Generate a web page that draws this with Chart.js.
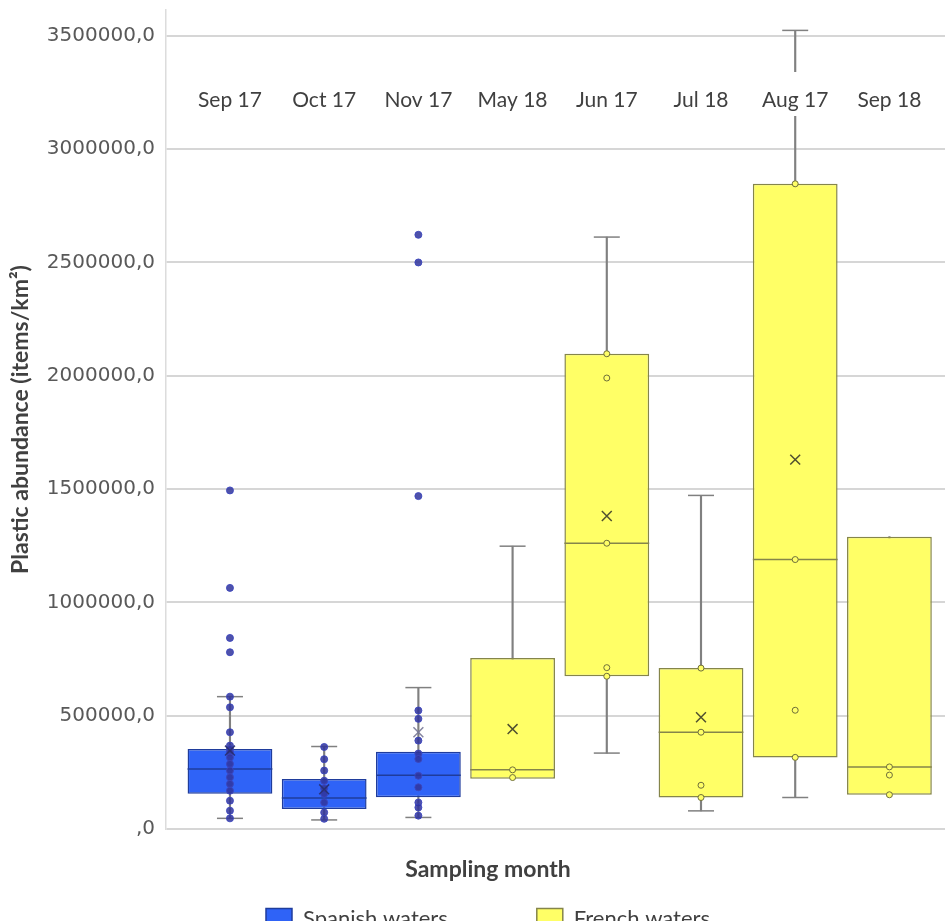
<!DOCTYPE html>
<html><head><meta charset="utf-8">
<script src="https://cdn.jsdelivr.net/npm/chart.js@4.4.1/dist/chart.umd.min.js"></script>
<style>
html,body{margin:0;padding:0;background:#fff;overflow:hidden;}
#wrap{position:relative;width:947px;height:950px;}
</style></head><body>
<div id="wrap"><canvas id="c"></canvas></div>
<script>
// ---- data ----
const categories = ['Sep 17','Oct 17','Nov 17','May 18','Jun 17','Jul 18','Aug 17','Sep 18'];
const spanishIdx = [0,1,2];
const frenchIdx = [3,4,5,6,7];
const q1      = [155000,  88000, 140000, 222000,  674000, 139000,  316000,  151000];
const q3      = [353000, 221000, 341000, 755000, 2097000, 710000, 2847000, 1290000];
const median  = [265000, 137000, 237000, 261000, 1261000, 427000, 1189000,  274000];
const whiskLo = [ 47000,  40000,  51000, 222000,  335000,  80000,  139000,  151000];
const whiskHi = [584000, 364000, 624000,1248000, 2612000,1472000, 3524000, 1290000];
const mean    = [346000, 175000, 427000, 441000, 1381000, 493000, 1630000, null];
const points = [
  [1494000,1064000,843000,780000,584000,537000,427000,368000,353000,338000,316000,287000,258000,228000,199000,169000,125000,81000,47000],
  [362000,308000,258000,213000,180000,155000,117000,73000,45000],
  [2622000,2500000,1469000,523000,486000,390000,333000,309000,235000,184000,117000,95000,59000],
  [261000,227000],
  [2097000,1990000,1261000,712000,674000],
  [710000,427000,193000,139000],
  [2847000,1189000,524000,316000],
  [274000,238000,151000]
];
const yTickValues = [0, 500000, 1000000, 1500000, 2000000, 2500000, 3000000, 3500000];
const yMax = 3614000;

// ---- styles ----
const BLUE = '#2f63f7', BLUE_EDGE = '#1f3c9c', DOT_BLUE = 'rgba(48,52,155,0.85)';
const YEL = '#ffff66', YEL_EDGE = '#85854a';
const GREY = '#808080';
const isSp = i => spanishIdx.includes(i);

const boxData = idx => idx.map(i => ({x:i, y:[q1[i], q3[i]]}));
const datasets = [
  {type:'bar', label:'Spanish waters', data:boxData(spanishIdx), backgroundColor:BLUE, borderColor:BLUE_EDGE,
   borderWidth:1.5, borderSkipped:false, grouped:false, barPercentage:0.9, categoryPercentage:1, order:6},
  {type:'bar', label:'French waters', data:boxData(frenchIdx), backgroundColor:YEL, borderColor:YEL_EDGE,
   borderWidth:1.5, borderSkipped:false, grouped:false, barPercentage:0.9, categoryPercentage:1, order:6},
  {type:'bar', label:'whiskers', data:categories.map((c,i)=>({x:i, y:[whiskLo[i], whiskHi[i]]})),
   backgroundColor:GREY, borderWidth:0, grouped:false, barThickness:1.5, order:10},
  {type:'scatter', label:'caps', data:[
      ...categories.map((c,i)=>whiskHi[i]>q3[i]?{x:i,y:whiskHi[i]}:null).filter(Boolean),
      ...categories.map((c,i)=>whiskLo[i]<q1[i]?{x:i,y:whiskLo[i]}:null).filter(Boolean)],
   pointStyle:'line', pointRadius:13, borderColor:GREY, borderWidth:1.5, order:5},
  {type:'scatter', label:'median', data:categories.map((c,i)=>({x:i,y:median[i]})),
   pointStyle:'line', pointRadius:42.4, borderWidth:1.5,
   borderColor:categories.map((c,i)=>isSp(i)?BLUE_EDGE:YEL_EDGE), order:4},
  {type:'scatter', label:'spanish points', data:spanishIdx.flatMap(i=>points[i].map(v=>({x:i,y:v}))),
   pointStyle:'circle', pointRadius:3.5, backgroundColor:DOT_BLUE, borderColor:'rgba(60,70,190,0.9)', borderWidth:1, order:2},
  {type:'scatter', label:'french points', data:frenchIdx.flatMap(i=>points[i].map(v=>({x:i,y:v}))),
   pointStyle:'circle', pointRadius:3, backgroundColor:YEL, borderColor:'#6f6f3a', borderWidth:1, order:2},
  {type:'scatter', label:'mean', data:categories.map((c,i)=>mean[i]==null?null:{x:i,y:mean[i]}).filter(Boolean),
   pointStyle:'crossRot', pointRadius:7, borderWidth:1.5,
   borderColor:ctx=>{const x = ctx.raw ? ctx.raw.x : 0; return x===2 ? 'rgba(120,120,150,0.9)' : (isSp(x)?'rgba(40,45,110,0.9)':'#505030');}, order:1}
];

const topLabels = {
  id:'topLabels',
  afterDatasetsDraw(chart){
    const {ctx, scales:{x}} = chart;
    ctx.save();
    ctx.font = '21px Lato';
    ctx.textAlign = 'center'; ctx.textBaseline = 'middle';
    categories.forEach((c,i)=>{
      const px = x.getPixelForValue(i);
      const w = ctx.measureText(c).width;
      ctx.fillStyle = '#ffffff';
      ctx.fillRect(px - w/2 - 4, 72, w + 8, 44);
      ctx.fillStyle = '#404040';
      ctx.fillText(c, px, 100);
    });
    ctx.restore();
  }
};

Chart.defaults.font.family = 'Lato';
new Chart(document.getElementById('c'), {
  type:'bar',
  data:{datasets},
  plugins:[topLabels],
  options:{
    responsive:true, maintainAspectRatio:false, animation:false, events:[],
    layout:{autoPadding:false, padding:{left:31, right:2, top:10, bottom:0}},
    scales:{
      x:{type:'linear', display:false, offset:false, min:-0.679, max:7.59,
         ticks:{stepSize:1, includeBounds:false}},
      y:{min:0, max:yMax,
         afterBuildTicks:s => { s.ticks = yTickValues.map(v => ({value:v})); },
         ticks:{padding:11, color:'#595959',
                font:{family:'DejaVu Sans', size:20},
                callback:v => (v===0 ? '' : String(v)) + ',0'},
         grid:{color:'#d6d6d6', lineWidth:2, drawTicks:false},
         border:{display:true, color:'#dcdcdc', width:1.5},
         title:{display:true, text:'Plastic abundance (items/km²)', color:'#404040',
                font:{size:23, weight:'bold'}, padding:{top:-24, bottom:0}},
         afterFit:s => { s.width = 135; s.paddingTop = 0; s.paddingBottom = 0; }
      }
    },
    plugins:{
      tooltip:{enabled:false},
      title:{display:true, text:'Sampling month', position:'bottom', weight:500, color:'#404040',
             font:{size:23, weight:'bold'}, padding:{top:27, bottom:-65}},
      legend:{position:'bottom', weight:1000,
        labels:{filter:item => item.datasetIndex <= 1, boxWidth:26, boxHeight:20, padding:89,
                color:'#404040', font:{size:22}}}
    }
  }
});
</script>
</body></html>
